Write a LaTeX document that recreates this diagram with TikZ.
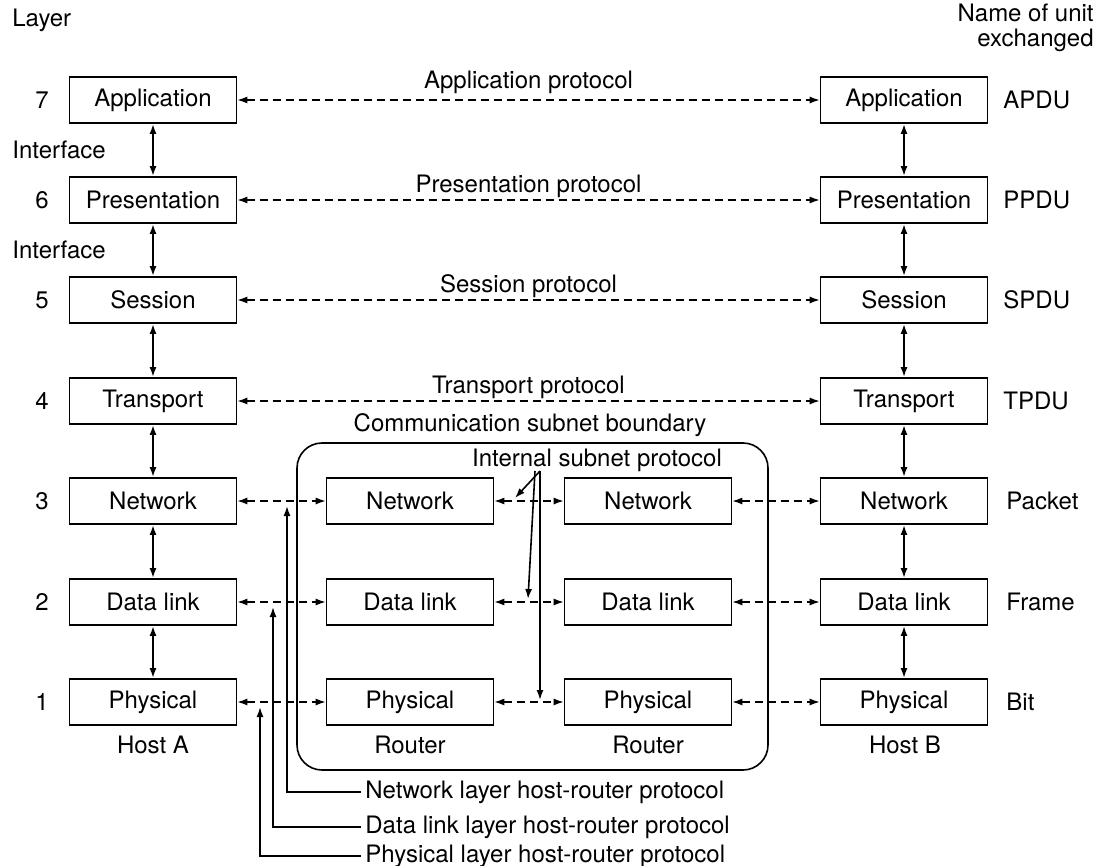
\documentclass[tikz,border=0pt]{standalone}
\usepackage{fontspec}
\setmainfont{TeX Gyre Heros}
\usetikzlibrary{arrows.meta}
\begin{document}
\begin{tikzpicture}[x=0.5pt,y=-0.5pt,
  every node/.style={font=\fontsize{12}{12.5}\selectfont, inner sep=0pt},
  layerbox/.style={draw, line width=0.8pt, minimum width=83.5pt, minimum height=23pt},
  peer/.style={line width=0.7pt, dash pattern=on 4pt off 2.5pt, {Latex[length=5pt,width=3.5pt]}-{Latex[length=5pt,width=3.5pt]}},
  iface/.style={line width=1pt, {Latex[length=5pt,width=3.5pt]}-{Latex[length=5pt,width=3.5pt]}},
  lead/.style={line width=0.8pt, -{Latex[length=5pt,width=3.5pt]}},
  subnet/.style={draw, line width=0.8pt, rounded corners=12.5pt},
]
\useasboundingbox (0,0) rectangle (1102,866);

% headings
\node[anchor=west] (hlayer) at (12,20) {Layer};
\node[anchor=east, align=right] (hunit) at (1094,28) {Name of unit\\exchanged};

% layer numbers
\node (n7) at (42,100) {7};
\node (n6) at (42,200) {6};
\node (n5) at (42,300) {5};
\node (n4) at (42,401) {4};
\node (n3) at (42,501) {3};
\node (n2) at (42,602) {2};
\node (n1) at (42,702) {1};
\node[anchor=west] (if1) at (12,150) {Interface};
\node[anchor=west] (if2) at (12,250) {Interface};

% host A
\node[layerbox] (A7) at (153,100) {Application};
\node[layerbox] (A6) at (153,200) {Presentation};
\node[layerbox] (A5) at (153,300) {Session};
\node[layerbox] (A4) at (153,401) {Transport};
\node[layerbox] (A3) at (153,501) {Network};
\node[layerbox] (A2) at (153,602) {Data link};
\node[layerbox] (A1) at (153,702) {Physical};
% host B
\node[layerbox] (B7) at (904,100) {Application};
\node[layerbox] (B6) at (904,200) {Presentation};
\node[layerbox] (B5) at (904,300) {Session};
\node[layerbox] (B4) at (904,401) {Transport};
\node[layerbox] (B3) at (904,501) {Network};
\node[layerbox] (B2) at (904,602) {Data link};
\node[layerbox] (B1) at (904,702) {Physical};
% routers
\node[layerbox] (R3) at (410,501) {Network};
\node[layerbox] (R2) at (410,602) {Data link};
\node[layerbox] (R1) at (410,702) {Physical};
\node[layerbox] (S3) at (648,501) {Network};
\node[layerbox] (S2) at (648,602) {Data link};
\node[layerbox] (S1) at (648,702) {Physical};

% machine labels
\node (hA) at (153,745) {Host A};
\node (rA) at (410,745) {Router};
\node (rB) at (648,745) {Router};
\node (hB) at (905,745) {Host B};

% units
\node[anchor=west] (u7) at (1003,100) {APDU};
\node[anchor=west] (u6) at (1003,200) {PPDU};
\node[anchor=west] (u5) at (1003,300) {SPDU};
\node[anchor=west] (u4) at (1003,401) {TPDU};
\node[anchor=west] (u3) at (1006,501) {Packet};
\node[anchor=west] (u2) at (1006,602) {Frame};
\node[anchor=west] (u1) at (1006,702) {Bit};

% interfaces
\foreach \c in {A,B}{
  \draw[iface] (\c7) -- (\c6);
  \draw[iface] (\c6) -- (\c5);
  \draw[iface] (\c5) -- (\c4);
  \draw[iface] (\c4) -- (\c3);
  \draw[iface] (\c3) -- (\c2);
  \draw[iface] (\c2) -- (\c1);
}

% end-to-end protocols
\draw[peer] (A7) -- node[above=3pt] {Application protocol} (B7);
\draw[peer] (A6) -- node[above=1pt] {Presentation protocol} (B6);
\draw[peer] (A5) -- node[above=1pt] {Session protocol} (B5);
\draw[peer] (A4) -- node[above=1pt] {Transport protocol} (B4);

% subnet
\draw[subnet] (297,443) rectangle (768,770);
\node (csb) at (530,425) {Communication subnet boundary};
\node (isp) at (597,460) {Internal subnet protocol};

% hop-by-hop protocols
\draw[peer] (A3) -- (R3);
\draw[peer] (R3) -- (S3);
\draw[peer] (S3) -- (B3);
\draw[peer] (A2) -- (R2);
\draw[peer] (R2) -- (S2);
\draw[peer] (S2) -- (B2);
\draw[peer] (A1) -- (R1);
\draw[peer] (R1) -- (S1);
\draw[peer] (S1) -- (B1);

% internal subnet protocol pointers
\coordinate (i0) at (540,471);
\coordinate (i1) at (535,471);
\coordinate (p3) at (515,498);
\coordinate (p2) at (528,599);
\coordinate (p1) at (540,700);
\draw[lead] (i0) -- (p3);
\draw[lead] (i1) -- (p2);
\draw[lead] (i0) -- (p1);

% host-router protocols
\node[anchor=west] (nhr) at (365,792) {Network layer host-router protocol};
\node[anchor=west] (dhr) at (365,827) {Data link layer host-router protocol};
\node[anchor=west] (phr) at (365,856) {Physical layer host-router protocol};
\coordinate (t3) at (287,506);
\coordinate (t2) at (273,607);
\coordinate (t1) at (260,707);
\draw[lead] ([xshift=-2pt]nhr.west) -| (t3);
\draw[lead] ([xshift=-2pt]dhr.west) -| (t2);
\draw[lead] ([xshift=-2pt]phr.west) -| (t1);
\end{tikzpicture}
\end{document}
